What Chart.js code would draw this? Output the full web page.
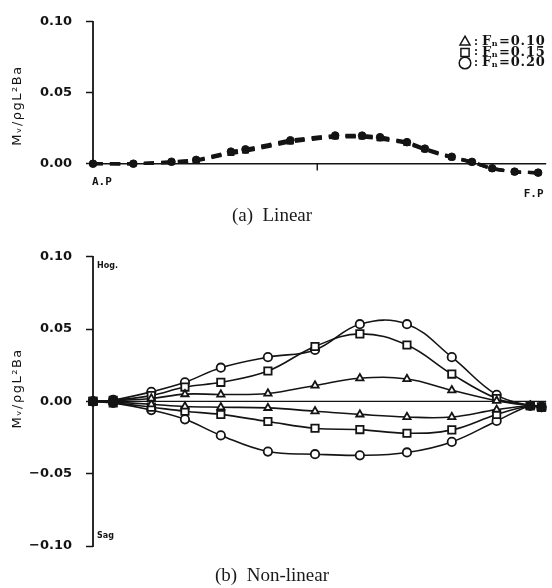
<!DOCTYPE html>
<html>
<head>
<meta charset="utf-8">
<script src="https://cdn.jsdelivr.net/npm/chart.js@4"></script>
<style>
    body { margin: 0; background: #fff; }
    #wrap { position: relative; width: 552px; height: 588px; overflow: hidden; background: #fff; }
    #wrap canvas { position: absolute; left: 0; }
    .cap {
        position: absolute; left: 0; width: 544px; text-align: center;
        font-family: "Liberation Serif", "DejaVu Serif", serif; font-size: 19px; line-height: 19px;
        color: #1a1a1a; white-space: pre;
    }
</style>
</head>
<body>
<div id="wrap">
    <canvas id="linChart" width="552" height="230" style="top:0"></canvas>
    <div class="cap" style="top:205px">(a)  Linear</div>
    <canvas id="nlChart" width="552" height="353" style="top:235px"></canvas>
    <div class="cap" style="top:565px">(b)  Non-linear</div>
</div>
<script>
// 船体站位：A.P = 0，F.P = 20
const linStations = [0, 1.8, 3.5, 4.6, 6.15, 6.8, 8.8, 10.8, 12.0, 12.8, 14.0, 14.8, 16.0, 16.9, 17.8, 18.8, 19.85];
const nlStations = [0, 0.9, 2.6, 4.1, 5.7, 7.8, 9.9, 11.9, 14.0, 16.0, 18.0, 19.5, 20.0];

const fnLabels = ['Fn=0.10', 'Fn=0.15', 'Fn=0.20'];
const fnMarkers = ['triangle', 'rect', 'circle'];

// 线性计算的波浪弯矩
const linFn10 = [0, 0, 0.0008, 0.0020, 0.0072, 0.0088, 0.0152, 0.0188, 0.0188, 0.0175, 0.0142, 0.0098, 0.0042, 0.0009, -0.0035, -0.0058, -0.0064];
const linFn15 = [0, 0, 0.0011, 0.0023, 0.0079, 0.0095, 0.0159, 0.0193, 0.0193, 0.0181, 0.0147, 0.0102, 0.0045, 0.0011, -0.0034, -0.0057, -0.0064];
const linFn20 = [0, 0, 0.0014, 0.0027, 0.0085, 0.0101, 0.0165, 0.0199, 0.0198, 0.0187, 0.0152, 0.0106, 0.0049, 0.0013, -0.0032, -0.0056, -0.0063];

// 非线性计算：中拱 (Hog.) 与中垂 (Sag)
const hogFn10 = [0, 0.0005, 0.0020, 0.0050, 0.0048, 0.0055, 0.0110, 0.0160, 0.0155, 0.0077, 0.0005, -0.0030, -0.0040];
const hogFn15 = [0, 0.0008, 0.0040, 0.0099, 0.0132, 0.0210, 0.0380, 0.0467, 0.0390, 0.0189, 0.0020, -0.0030, -0.0040];
const hogFn20 = [0, 0.0010, 0.0066, 0.0132, 0.0233, 0.0306, 0.0356, 0.0534, 0.0534, 0.0306, 0.0045, -0.0030, -0.0040];
const sagFn10 = [0, -0.0005, -0.0020, -0.0035, -0.0040, -0.0045, -0.0068, -0.0090, -0.0108, -0.0108, -0.0057, -0.0030, -0.0040];
const sagFn15 = [0, -0.0010, -0.0040, -0.0068, -0.0090, -0.0139, -0.0186, -0.0195, -0.0220, -0.0197, -0.0090, -0.0030, -0.0040];
const sagFn20 = [0, -0.0010, -0.0060, -0.0124, -0.0235, -0.0347, -0.0365, -0.0373, -0.0353, -0.0280, -0.0135, -0.0030, -0.0040];

const yTicks = [-0.10, -0.05, 0, 0.05, 0.10];
const yTitle = 'Mᵥ/ρgL²Ba';

const INK = '#141414';

function pairs(xs, ys) {
    return xs.map((x, i) => ({ x: x, y: ys[i] }));
}

// 坐标轴、站位标注、图例都在这里画
const framePlugin = {
    id: 'frame',
    beforeDatasetsDraw(chart, args, o) {
        const ctx = chart.ctx;
        const xs = chart.scales.x, ys = chart.scales.y;
        const x0 = xs.getPixelForValue(0), x20 = xs.getPixelForValue(20);
        const y0 = ys.getPixelForValue(0);
        ctx.save();
        ctx.strokeStyle = INK;
        ctx.lineCap = 'square';
        // 纵轴
        ctx.lineWidth = 1.8;
        ctx.beginPath();
        ctx.moveTo(x0, ys.getPixelForValue(o.axisTop));
        ctx.lineTo(x0, ys.getPixelForValue(o.axisEnd));
        ctx.stroke();
        // 零线
        ctx.lineWidth = 1.4;
        ctx.beginPath();
        ctx.moveTo(x0, y0);
        ctx.lineTo(x20 + o.zeroExtra, y0);
        ctx.stroke();
        if (o.midTick) {
            const xm = xs.getPixelForValue(10);
            ctx.beginPath();
            ctx.moveTo(xm, y0);
            ctx.lineTo(xm, y0 + 6);
            ctx.stroke();
        }
        ctx.fillStyle = INK;
        // 纵轴标题
        ctx.save();
        ctx.translate(18, ys.getPixelForValue(o.titleAt));
        ctx.rotate(-Math.PI / 2);
        ctx.font = '13px "DejaVu Sans"';
        ctx.letterSpacing = '1.5px';
        ctx.textAlign = 'center';
        ctx.textBaseline = 'middle';
        ctx.fillText(yTitle, 0, 0);
        ctx.restore();

        ctx.font = 'bold 11px "DejaVu Sans Mono"';
        ctx.textBaseline = 'alphabetic';
        if (o.ends) {
            ctx.textAlign = 'left';
            ctx.fillText('A.P', x0 - 1, y0 + 21);
            ctx.textAlign = 'right';
            ctx.fillText('F.P', x20 + 2, y0 + 33);
        }
        if (o.hogSag) {
            ctx.font = 'bold 8px "DejaVu Sans"';
            ctx.textAlign = 'left';
            ctx.fillText('Hog.', x0 + 4, ys.getPixelForValue(0.10) + 11);
            ctx.fillText('Sag', x0 + 4, ys.getPixelForValue(-0.10) - 8);
        }
        ctx.restore();
    },
    afterDraw(chart, args, o) {
        if (!o.legend) return;
        const ctx = chart.ctx;
        ctx.save();
        ctx.fillStyle = INK;
        ctx.textBaseline = 'middle';
        fnLabels.forEach((lab, i) => {
            const cy = 42 + i * 10.5;
            ctx.strokeStyle = INK;
            ctx.fillStyle = '#fff';
            ctx.lineWidth = 1.5;
            Chart.helpers.drawPoint(ctx, { pointStyle: fnMarkers[i], radius: 5.8, borderWidth: 1.5, rotation: 0 }, 465, cy);
            ctx.fillStyle = INK;
            ctx.font = 'bold 11px "DejaVu Serif"';
            ctx.textAlign = 'left';
            ctx.fillText(':', 474, cy);
            // Fn 的 n 写成下标
            let x = 482;
            const parts = [lab.slice(0, 1), lab.slice(1, 2), lab.slice(2)];
            ctx.font = 'bold 13px "DejaVu Serif"';
            ctx.letterSpacing = '0.5px';
            ctx.fillText(parts[0], x, cy);
            x += ctx.measureText(parts[0]).width;
            ctx.font = 'bold 8px "DejaVu Serif"';
            ctx.fillText(parts[1], x, cy + 2);
            x += ctx.measureText(parts[1]).width + 1;
            ctx.font = 'bold 13px "DejaVu Serif"';
            ctx.letterSpacing = '0.8px';
            ctx.fillText(parts[2], x, cy);
            ctx.letterSpacing = '0px';
        });
        ctx.restore();
    }
};

function yScale(min, max) {
    return {
        type: 'linear',
        min: min,
        max: max,
        afterFit: s => { s.width = 93; },
        afterBuildTicks: s => {
            s.ticks = yTicks.filter(v => v >= min - 1e-9 && v <= max + 1e-9).map(v => ({ value: v }));
        },
        border: { display: false },
        grid: {
            drawOnChartArea: false,
            drawTicks: true,
            tickLength: 7,
            tickColor: INK,
            tickWidth: 1.5
        },
        ticks: {
            color: INK,
            padding: 14,
            font: { family: 'DejaVu Sans', size: 13, weight: 'bold' },
            callback: v => v.toFixed(2).replace('-', '−')
        }
    };
}

const xScale = { type: 'linear', min: 0, max: 20, display: false };

// (a) 线性
new Chart(document.getElementById('linChart'), {
    type: 'line',
    data: {
        datasets: [linFn10, linFn15, linFn20].map((ys, i) => ({
            label: fnLabels[i],
            data: pairs(linStations, ys),
            borderColor: INK,
            borderWidth: 3.2,
            borderDash: [10, 7],
            pointStyle: fnMarkers[i],
            pointRadius: 3.8,
            pointBorderWidth: 1,
            pointBackgroundColor: INK,
            pointBorderColor: INK,
            tension: 0.2,
            clip: false
        }))
    },
    options: {
        responsive: false,
        animation: false,
        layout: { padding: { left: 0, right: 10.5, top: 17, bottom: 45 } },
        scales: { x: xScale, y: yScale(-0.015, 0.10) },
        plugins: {
            legend: { display: false },
            tooltip: { enabled: false },
            frame: { axisTop: 0.10, axisEnd: 0, zeroExtra: 4, titleAt: 0.041, midTick: true, ends: true, legend: true }
        }
    },
    plugins: [framePlugin]
});

// (b) 非线性
const nlSeries = [
    [hogFn10, 0], [hogFn15, 1], [hogFn20, 2],
    [sagFn10, 0], [sagFn15, 1], [sagFn20, 2]
];
new Chart(document.getElementById('nlChart'), {
    type: 'line',
    data: {
        datasets: nlSeries.map(([ys, k]) => ({
            label: fnLabels[k],
            data: pairs(nlStations, ys),
            borderColor: INK,
            borderWidth: 1.6,
            pointStyle: fnMarkers[k],
            pointRadius: k === 1 ? 5.2 : 4.2,
            pointBorderWidth: 1.8,
            pointBorderColor: INK,
            pointBackgroundColor: c => (c.dataIndex < 2 || c.dataIndex > 10) ? INK : '#fff',
            tension: 0.4,
            clip: false
        }))
    },
    options: {
        responsive: false,
        animation: false,
        layout: { padding: { left: 0, right: 10.5, top: 12, bottom: 42 } },
        scales: { x: xScale, y: yScale(-0.10, 0.10) },
        plugins: {
            legend: { display: false },
            tooltip: { enabled: false },
            frame: { axisTop: 0.10, axisEnd: -0.10, zeroExtra: 4, titleAt: 0.009, midTick: false, ends: false, hogSag: true, legend: false }
        }
    },
    plugins: [framePlugin]
});
</script>
</body>
</html>
